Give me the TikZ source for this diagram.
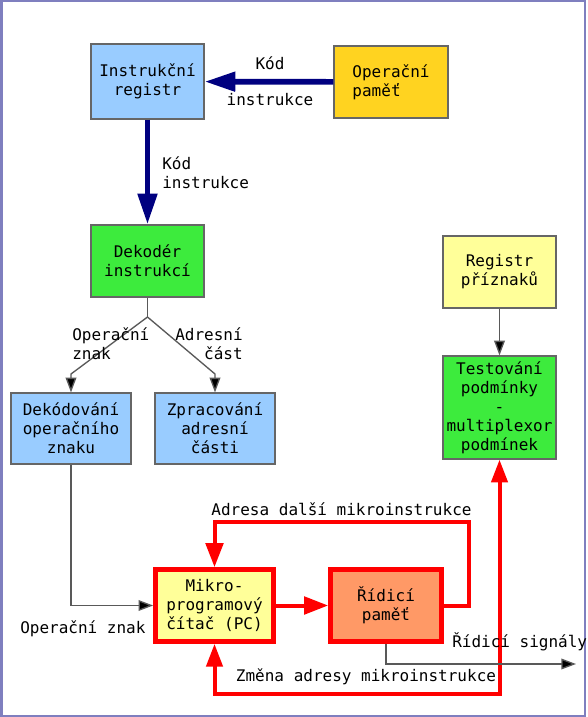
\documentclass[tikz,border=0pt]{standalone}
\usepackage{fontspec}
\setmainfont{DejaVu Sans Mono}
\usepackage{xcolor}
\usetikzlibrary{arrows.meta,positioning}

\definecolor{boxblue}{HTML}{99CCFF}
\definecolor{boxgold}{HTML}{FFD320}
\definecolor{boxgreen}{HTML}{3DEB3D}
\definecolor{boxyellow}{HTML}{FFFF99}
\definecolor{boxsalmon}{HTML}{FF9966}
\definecolor{busnavy}{HTML}{000080}
\definecolor{framepurple}{HTML}{7F7FBF}

\begin{document}
\begin{tikzpicture}[
    x=0.75pt, y=-0.75pt,
    % Define styles
    unit/.style={rectangle, draw=black!60, line width=0.9pt, minimum width=84.75pt, minimum height=54pt, inner sep=0pt, align=center, font=\fontsize{12pt}{14.3pt}\selectfont},
    ctrl/.style={unit, draw=red, line width=3.5pt},
    lbl/.style={inner sep=0pt, font=\fontsize{12pt}{14.3pt}\selectfont},
    bus/.style={draw=busnavy, line width=4.3pt, -{Triangle[length=23pt, width=14pt]}},
    redline/.style={draw=red, line width=3pt},
    redarrow/.style={redline, -{Triangle[length=18pt, width=13pt]}},
    wire/.style={draw=black!65, line width=1pt},
    wirearrow/.style={wire, -{Triangle[length=11pt, width=8pt, fill=black]}}
]

% Page and frame
\useasboundingbox[fill=white] (0,0) rectangle (587,717);
\draw[framepurple, line width=1.5pt] (1.5,1.5) rectangle (585,715.5);

% Main units
\node[unit, fill=boxblue, minimum height=56.25pt] (ireg) at (147.5,81.5) {Instrukční\\registr};
\node[unit, fill=boxgold, minimum width=85.5pt, align=left] (opmem) at (391,82) {Operační\\paměť};
\node[unit, fill=boxgreen] (dec) at (147.5,261) {Dekodér\\instrukcí};

% Decoder outputs
\node[unit, fill=boxblue, minimum width=90pt, minimum height=53.25pt] (decop) at (71,428.5) {Dekódování\\operačního\\znaku};
\node[unit, fill=boxblue, minimum width=90pt, minimum height=53.25pt] (addr) at (215,428.5) {Zpracování\\adresní\\části};

% Condition testing
\node[unit, fill=boxyellow] (flags) at (499.5,272) {Registr\\příznaků};
\node[unit, fill=boxgreen, minimum height=77.25pt] (test) at (499.5,407.5) {Testování\\podmínky\\-\\multiplexor\\podmínek};

% Microprogram control
\node[ctrl, fill=boxyellow, minimum width=88.5pt] (pc) at (214.5,605.5) {Mikro-\\programový\\čítač (PC)};
\node[ctrl, fill=boxsalmon, minimum width=83.25pt] (cmem) at (386,605.5) {Řídicí\\paměť};

% Helper points
\coordinate (split) at (147.5,317);
\coordinate (sigend) at (576,664);

% Connections
% Instruction fetch
\draw[bus] (opmem) -- (ireg);
\draw[bus] (ireg) -- (dec);

% Decoder split
\draw[wire] (dec) -- (split);
\draw[wirearrow] (split) -- ++(-76.5,57) -- (decop.north);
\draw[wirearrow] (split) -- ++(67.5,57) -- (addr.north);

% Flags to test
\draw[wirearrow] (flags) -- (test);

% Opcode into counter
\draw[wirearrow] (decop.south) |- (pc.west);

% Microprogram loop
\draw[redarrow] (pc) -- (cmem);
\draw[redarrow] (cmem.east) -- ++(25,0) -- ++(0,-84) -| (pc.north);
\draw[redline, {Triangle[length=17pt, width=12pt]}-{Triangle[length=17pt, width=12pt]}] (pc.south) -- ++(0,50) -| (test.south);

% Control signals out
\draw[wirearrow] (cmem.south) |- (sigend);

% Labels
\node[lbl] (kod) at (270,63) {Kód};
\node[lbl] (instr) at (270,100) {instrukce};
\node[lbl, align=left, anchor=west] (kodinstr) at (162,173) {Kód\\instrukce};
\node[lbl, align=left, anchor=west] (opznak) at (72,344) {Operační\\znak};
\node[lbl, align=right, anchor=east] (adrcast) at (243,344) {Adresní\\část};
\node[lbl, anchor=west] (opznak2) at (20,629) {Operační znak};
\node[lbl] (dalsi) at (341.5,509) {Adresa další mikroinstrukce};
\node[lbl] (zmena) at (366,677) {Změna adresy mikroinstrukce};
\node[lbl, anchor=west] (signaly) at (452,642) {Řídicí signály};

\end{tikzpicture}
\end{document}
